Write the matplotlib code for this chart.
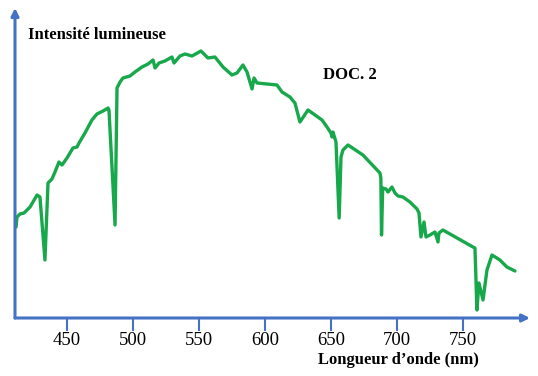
"""Spectre solaire (DOC. 2): intensité lumineuse vs longueur d'onde."""
import matplotlib
matplotlib.use("Agg")
import matplotlib.pyplot as plt

# longueurs d'onde (nm) et intensité (unités arbitraires)
wavelength = [
    411.4, 412.1, 414.4, 417.4, 422.0, 427.3, 429.5, 433.3, 435.6, 438.6,
    440.9, 443.9, 446.2, 450.0, 454.5, 457.6, 459.1, 463.6, 468.9, 472.7,
    477.3, 481.1, 481.8, 486.4, 487.9, 490.2, 492.4, 497.7, 501.5, 506.8,
    511.4, 515.2, 516.7, 519.7, 524.2, 529.5, 531.1, 535.6, 539.4, 544.7,
    551.5, 556.8, 562.1, 568.2, 575.0, 578.8, 583.3, 586.4, 590.2, 591.7,
    594.0, 609.1, 612.9, 618.9, 622.7, 626.5, 632.6, 637.9, 643.2, 647.0,
    650.0, 650.8, 651.5, 653.8, 656.2, 657.6, 659.1, 662.9, 674.2, 687.1,
    687.8, 688.3, 689.2, 691.7, 693.2, 696.2, 698.5, 700.8, 704.5, 709.8,
    715.2, 716.7, 718.2, 720.5, 722.0, 725.0, 728.8, 731.1, 731.8, 734.8,
    757.6, 759.1, 760.6, 762.1, 765.2, 768.2, 772.0, 778.0, 783.3, 789.4,
]
intensity = [
    91, 101, 104, 105, 111, 123, 121, 58, 135, 139,
    146, 156, 153, 160, 170, 171, 175, 185, 198, 204,
    207, 210, 208, 93, 230, 236, 240, 242, 246, 251,
    254, 258, 250, 255, 257, 261, 255, 262, 264, 262,
    267, 260, 261, 251, 243, 245, 253, 246, 229, 240,
    235, 233, 226, 221, 215, 196, 208, 203, 198, 191,
    185, 181, 186, 176, 100, 161, 168, 173, 163, 145,
    140, 83, 130, 129, 126, 131, 125, 122, 121, 116,
    109, 105, 81, 96, 81, 83, 86, 76, 85, 88,
    71, 70, 8, 35, 18, 48, 63, 58, 51, 47,
]
tick_values = [450, 500, 550, 600, 650, 700, 750]

AXIS_BLUE = "#4472c4"
LINE_GREEN = "#17a84b"

plt.rcParams["font.family"] = ["Liberation Serif", "DejaVu Serif"]

fig = plt.figure(figsize=(5.38, 3.76), dpi=100)
ax = fig.add_axes([15 / 538, 58 / 376, 515 / 538, 310 / 376])

ax.plot(wavelength, intensity, color=LINE_GREEN, lw=2.4,
        solid_joinstyle="round", solid_capstyle="round")
ax.set_xlim(410.6, 800.8)
ax.set_ylim(0, 310)

for side in ax.spines.values():
    side.set_visible(False)

# axes drawn as arrows
arrow = dict(arrowstyle="-|>", color=AXIS_BLUE, lw=2.2, mutation_scale=11,
             shrinkA=0, shrinkB=0)
ax.annotate("", xy=(1.0, 0.0), xytext=(0.0, 0.0), xycoords="axes fraction",
            arrowprops=arrow)
ax.annotate("", xy=(0.0, 1.0), xytext=(0.0, 0.0), xycoords="axes fraction",
            arrowprops=arrow)

ax.set_xticks(tick_values)
ax.set_xticklabels([str(v) for v in tick_values])
ax.tick_params(axis="x", direction="out", length=9, width=1.5,
               color=AXIS_BLUE, labelsize=13.5, pad=1)
ax.set_yticks([])

fig.text(28 / 538, 1 - 35 / 376, "Intensité lumineuse", fontsize=12,
         fontweight="bold", ha="left", va="center")
fig.text(350 / 538, 1 - 75 / 376, "DOC. 2", fontsize=12,
         fontweight="bold", ha="center", va="center")
fig.text(398 / 538, 1 - 360 / 376, "Longueur d\u2019onde (nm)", fontsize=12,
         fontweight="bold", ha="center", va="center")

fig.savefig("out.png", dpi=100)
